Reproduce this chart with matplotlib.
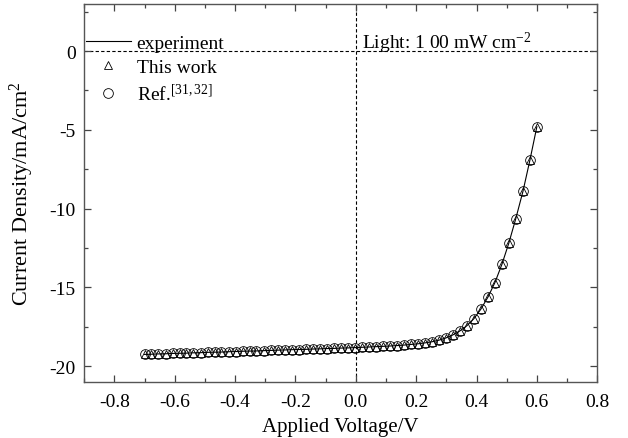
import numpy as np
import matplotlib
matplotlib.use('Agg')
import matplotlib.pyplot as plt
from matplotlib.ticker import MultipleLocator

plt.rcParams['font.family'] = 'Liberation Serif'
plt.rcParams['mathtext.fontset'] = 'custom'
plt.rcParams['mathtext.rm'] = 'Liberation Serif'
plt.rcParams['mathtext.it'] = 'Liberation Serif:italic'
plt.rcParams['axes.unicode_minus'] = False

# J-V data
voltage = [-0.700, -0.677, -0.654, -0.630, -0.607, -0.584, -0.561, -0.538,
           -0.514, -0.491, -0.468, -0.445, -0.421, -0.398, -0.375, -0.352,
           -0.329, -0.305, -0.282, -0.259, -0.236, -0.212, -0.189, -0.166,
           -0.143, -0.120, -0.096, -0.073, -0.050, -0.027, -0.004, 0.020,
           0.043, 0.066, 0.089, 0.112, 0.136, 0.159, 0.182, 0.205,
           0.229, 0.252, 0.275, 0.298, 0.321, 0.345, 0.368, 0.391,
           0.414, 0.438, 0.461, 0.484, 0.507, 0.530, 0.554, 0.577, 0.600]

current_exp = [-19.26, -19.25, -19.23, -19.22, -19.20, -19.19, -19.18, -19.16,
               -19.15, -19.13, -19.12, -19.11, -19.09, -19.08, -19.06, -19.05,
               -19.04, -19.02, -19.01, -18.99, -18.98, -18.96, -18.95, -18.94,
               -18.92, -18.91, -18.89, -18.88, -18.86, -18.85, -18.83, -18.81,
               -18.79, -18.77, -18.75, -18.73, -18.70, -18.67, -18.63, -18.59,
               -18.53, -18.46, -18.36, -18.22, -18.03, -17.77, -17.44, -17.00,
               -16.40, -15.62, -14.70, -13.55, -12.20, -10.65, -8.90, -6.92, -4.80]

current_this_work = current_exp
current_ref = current_exp

fig = plt.figure(figsize=(6.28, 4.39), dpi=100)
ax = fig.add_axes([0.134, 0.128, 0.817, 0.861])

ax.axhline(0, color='black', lw=0.8, ls=(0, (3, 2)), zorder=1)
ax.axvline(0, color='black', lw=0.8, ls=(0, (3, 2)), zorder=1)

ax.plot(voltage, current_exp, color='black', lw=0.8, label='experiment', zorder=2)
ax.plot(voltage, current_this_work, ls='none', marker='^', ms=5.5, mfc='none',
        mec='black', mew=0.6, label='This work', zorder=3)
ax.plot(voltage, current_ref, ls='none', marker='o', ms=7, mfc='none',
        mec='black', mew=0.6, label='Ref.$^{[31,32]}$', zorder=4)

ax.text(0.02, 0.55, 'Light: 1 00 mW cm$^{-2}$', fontsize=14, va='center', ha='left')

ax.set_xlim(-0.9, 0.8)
ax.set_ylim(-21, 3)
ax.xaxis.set_minor_locator(MultipleLocator(0.1))
ax.yaxis.set_minor_locator(MultipleLocator(2.5))
ax.set_xticks(np.arange(-0.8, 0.81, 0.2))
ax.set_xticklabels(['-0.8', '-0.6', '-0.4', '-0.2', '0.0', '0.2', '0.4', '0.6', '0.8'])
ax.set_yticks([-20, -15, -10, -5, 0])
ax.set_yticklabels(['-20', '-15', '-10', '-5', '0'])

ax.tick_params(which='both', direction='in', top=True, right=True, labelsize=14,
               color='#444444')
ax.tick_params(which='major', length=5, width=0.9)
ax.tick_params(which='minor', length=3, width=0.9)
ax.tick_params(axis='x', pad=8)
ax.tick_params(axis='y', pad=6)
for sp in ax.spines.values():
    sp.set_color('#555555')
    sp.set_linewidth(1.0)

ax.set_xlabel('Applied Voltage/V', fontsize=15, labelpad=5)
ax.set_ylabel('Current Density/mA/cm$^{2}$', fontsize=16, labelpad=10)

ax.legend(loc='upper left', bbox_to_anchor=(0.0, 0.924), frameon=False, fontsize=14,
          handlelength=2.3, handletextpad=0.3, labelspacing=0.33, borderpad=0.1,
          borderaxespad=0.0)

fig.savefig('out.png', dpi=100)
